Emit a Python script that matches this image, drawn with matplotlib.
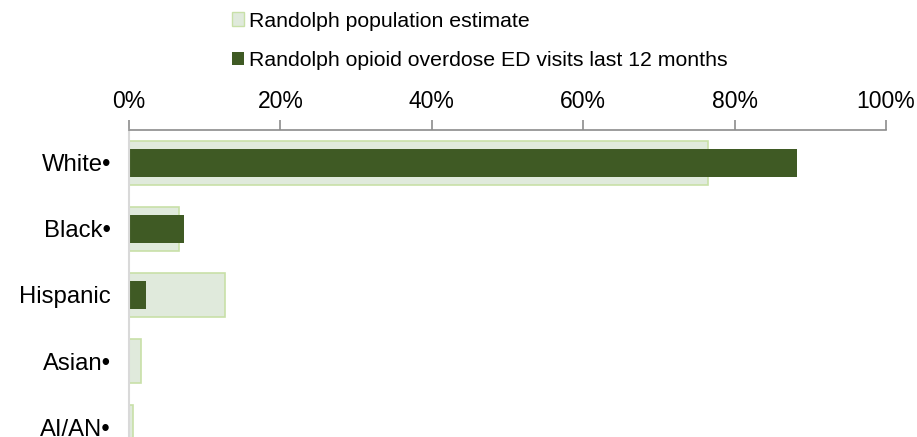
import matplotlib.pyplot as plt
from matplotlib.patches import Patch
from matplotlib.ticker import PercentFormatter

plt.rcParams["font.family"] = ["Liberation Sans", "DejaVu Sans"]

categories = ["White•", "Black•", "Hispanic", "Asian•", "AI/AN•"]
population = [76.5, 6.6, 12.7, 1.6, 0.5]
ed_visits  = [88.2, 7.3, 2.2, 0.0, 0.0]
ticks      = [0, 20, 40, 60, 80, 100]

POP_FILL = "#e0eadc"
POP_EDGE = "#c8e0a8"
ED_FILL  = "#3f5a24"

fig = plt.figure(figsize=(9.17, 4.37), dpi=100)
ax = fig.add_axes([129 / 917, -23 / 437, (886 - 129) / 917, 330 / 437])

y = list(range(len(categories)))
ax.barh(y, population, height=0.67, color=POP_FILL, edgecolor=POP_EDGE, linewidth=1.2)
ax.barh(y, ed_visits, height=0.41, color=ED_FILL, edgecolor="none")

ax.set_xlim(0, 100)
ax.set_ylim(4.5, -0.5)
ax.set_yticks(y)
ax.set_yticklabels(categories, fontsize=17.2)
ax.set_xticks(ticks)
ax.xaxis.set_major_formatter(PercentFormatter(decimals=0))
ax.xaxis.tick_top()
ax.tick_params(axis="x", direction="out", length=7, width=1.2, color="#8c8c8c",
               labelsize=16.5, pad=5)
ax.tick_params(axis="y", length=0, pad=13)

for side in ["right", "bottom"]:
    ax.spines[side].set_visible(False)
ax.spines["top"].set_color("#8c8c8c")
ax.spines["top"].set_linewidth(1.2)
ax.spines["left"].set_color("#d9d9d9")
ax.spines["left"].set_linewidth(1.5)

handles = [
    Patch(facecolor=POP_FILL, edgecolor=POP_EDGE, label="Randolph population estimate"),
    Patch(facecolor=ED_FILL, edgecolor="none",
          label="Randolph opioid overdose ED visits last 12 months"),
]
fig.legend(handles=handles, loc="upper left", bbox_to_anchor=(220 / 917, 1.0),
           frameon=False, fontsize=15.3, handlelength=0.6, handleheight=0.6,
           handletextpad=0.2, labelspacing=0.95, borderaxespad=0.15)

fig.savefig("out.png", dpi=100)
